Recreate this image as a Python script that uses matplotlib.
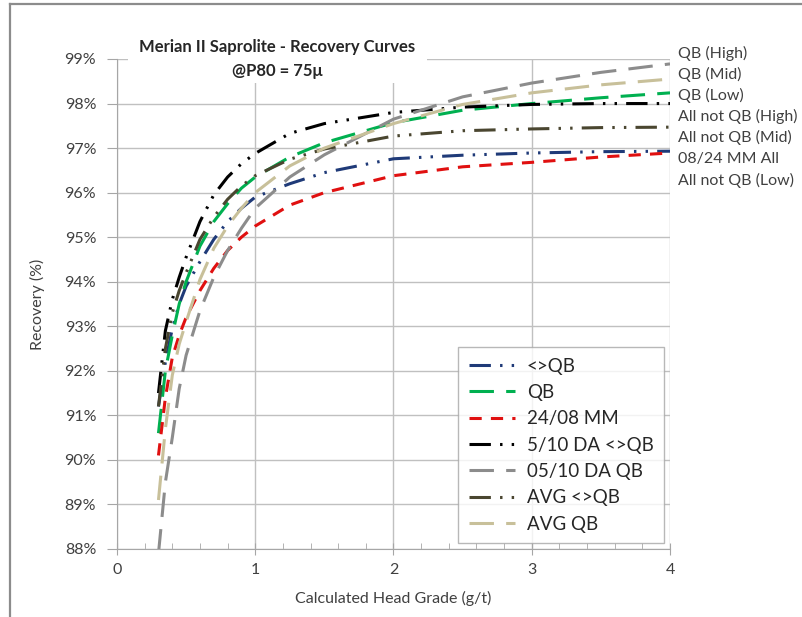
import matplotlib.pyplot as plt
from matplotlib.lines import Line2D
from matplotlib.patches import Rectangle
from matplotlib.ticker import MultipleLocator, FuncFormatter

plt.rcParams['font.family'] = ['Lato', 'DejaVu Sans']

# head grade (g/t)
grade = [0.3, 0.35, 0.4, 0.45, 0.5, 0.6, 0.7, 0.8, 0.9, 1.0, 1.25, 1.5, 2.0, 2.5, 3.0, 3.5, 4.0]

# recovery (%)
rec_not_qb = [91.2, 92.2, 92.95, 93.5, 93.9, 94.45, 94.95, 95.35, 95.65, 95.9, 96.2, 96.45, 96.76, 96.84, 96.89, 96.92, 96.93]
rec_qb = [90.6, 92.0, 92.8, 93.5, 94.0, 94.8, 95.35, 95.75, 96.1, 96.35, 96.8, 97.12, 97.57, 97.85, 98.0, 98.13, 98.24]
rec_mm = [90.1, 91.4, 92.3, 92.8, 93.2, 93.8, 94.3, 94.7, 95.0, 95.25, 95.72, 96.0, 96.38, 96.58, 96.68, 96.8, 96.89]
rec_da_not_qb = [91.5, 92.9, 93.6, 94.1, 94.55, 95.35, 95.95, 96.35, 96.65, 96.88, 97.33, 97.55, 97.8, 97.92, 97.98, 98.0, 98.0]
rec_da_qb = [87.9, 89.5, 90.5, 91.6, 92.35, 93.35, 94.1, 94.7, 95.2, 95.65, 96.35, 96.85, 97.65, 98.15, 98.46, 98.7, 98.89]
rec_avg_not_qb = [91.2, 92.5, 93.3, 93.8, 94.2, 94.95, 95.45, 95.85, 96.15, 96.38, 96.75, 96.98, 97.27, 97.39, 97.43, 97.46, 97.47]
rec_avg_qb = [89.1, 90.7, 91.9, 92.6, 93.1, 94.05, 94.75, 95.25, 95.65, 96.0, 96.6, 97.0, 97.55, 97.98, 98.24, 98.42, 98.55]

labels = ['<>QB', 'QB', '24/08 MM', '5/10 DA <>QB', '05/10 DA QB', 'AVG <>QB', 'AVG QB']
side_labels = ['QB (High)', 'QB (Mid)', 'QB (Low)', 'All not QB (High)',
               'All not QB (Mid)', '08/24 MM All', 'All not QB (Low)']

series = [rec_not_qb, rec_qb, rec_mm, rec_da_not_qb, rec_da_qb, rec_avg_not_qb, rec_avg_qb]
colors = ['#1F3A78', '#00B050', '#E01010', '#000000', '#8C8C8C', '#4A4630', '#C8C09A']
ddot = (7, 3, 0.8, 3, 0.8, 3)
longdash = (8, 4)
dashes = [ddot, longdash, (4, 3), ddot, longdash, ddot, longdash]

fig = plt.figure(figsize=(8.02, 6.17), dpi=100)
ax = fig.add_axes([117 / 802, 1 - 549 / 617, 553 / 802, 490 / 617])

for y, c, d, lab in zip(series, colors, dashes, labels):
    ax.plot(grade, y, color=c, lw=2.2, dashes=d, label=lab)

ax.set_xlim(0, 4)
ax.set_ylim(88, 99)
ax.xaxis.set_major_locator(MultipleLocator(1))
ax.xaxis.set_minor_locator(MultipleLocator(0.2))
ax.yaxis.set_major_locator(MultipleLocator(1))
ax.yaxis.set_major_formatter(FuncFormatter(lambda v, p: '%d%%' % round(v)))
ax.grid(True, color='#C0C0C0', lw=1)
ax.set_axisbelow(True)
for s in ['top', 'right']:
    ax.spines[s].set_visible(False)
for s in ['left', 'bottom']:
    ax.spines[s].set_color('#A6A6A6')
ax.tick_params(axis='both', which='major', colors='#A6A6A6', labelcolor='#404040',
               labelsize=11.5, length=6)
ax.tick_params(axis='x', which='major', direction='inout', length=8, pad=6)
ax.tick_params(axis='x', which='minor', direction='in', length=4, colors='#A6A6A6')
ax.tick_params(axis='y', which='major', direction='out', length=7, pad=8)

ax.set_xlabel('Calculated Head Grade (g/t)', fontsize=11.5, color='#404040', labelpad=10)
ax.set_ylabel('Recovery (%)', fontsize=11.5, color='#404040', labelpad=14)

leg = ax.legend(loc='lower right', bbox_to_anchor=(0.989, 0.012), borderaxespad=0,
                fontsize=13.5, handlelength=2.5, labelspacing=0.5, frameon=True,
                fancybox=False, borderpad=0.55, handletextpad=0.6)
leg.get_frame().set_edgecolor('#A6A6A6')
leg.get_frame().set_linewidth(1)
for t in leg.get_texts():
    t.set_color('#262626')

# title block (white box hides grid behind it)
fig.patches.append(Rectangle((128 / 802, 1 - 83 / 617), 299 / 802, 60 / 617,
                             transform=fig.transFigure, facecolor='white',
                             edgecolor='none', zorder=5))
fig.text(277 / 802, 1 - 47 / 617, 'Merian II Saprolite - Recovery Curves', ha='center',
         va='center', fontsize=12, fontweight='bold', color='#262626', zorder=6)
fig.text(277 / 802, 1 - 71 / 617, '@P80 = 75\u03bc', ha='center', va='center',
         fontsize=12, fontweight='bold', color='#262626', zorder=6)

# labels on the right of the plot
for i, s in enumerate(side_labels):
    fig.text(678 / 802, 1 - (53 + 21.2 * i) / 617, s, ha='left', va='center',
             fontsize=11.5, color='#404040')

# chart frame
fig.lines.append(Line2D([10 / 802, 10 / 802], [0, 1 - 4 / 617], transform=fig.transFigure,
                        color='#8C8C8C', lw=1.6))
fig.lines.append(Line2D([10 / 802, 1], [1 - 4 / 617, 1 - 4 / 617], transform=fig.transFigure,
                        color='#8C8C8C', lw=1.6))

fig.savefig('out.png', dpi=100)
